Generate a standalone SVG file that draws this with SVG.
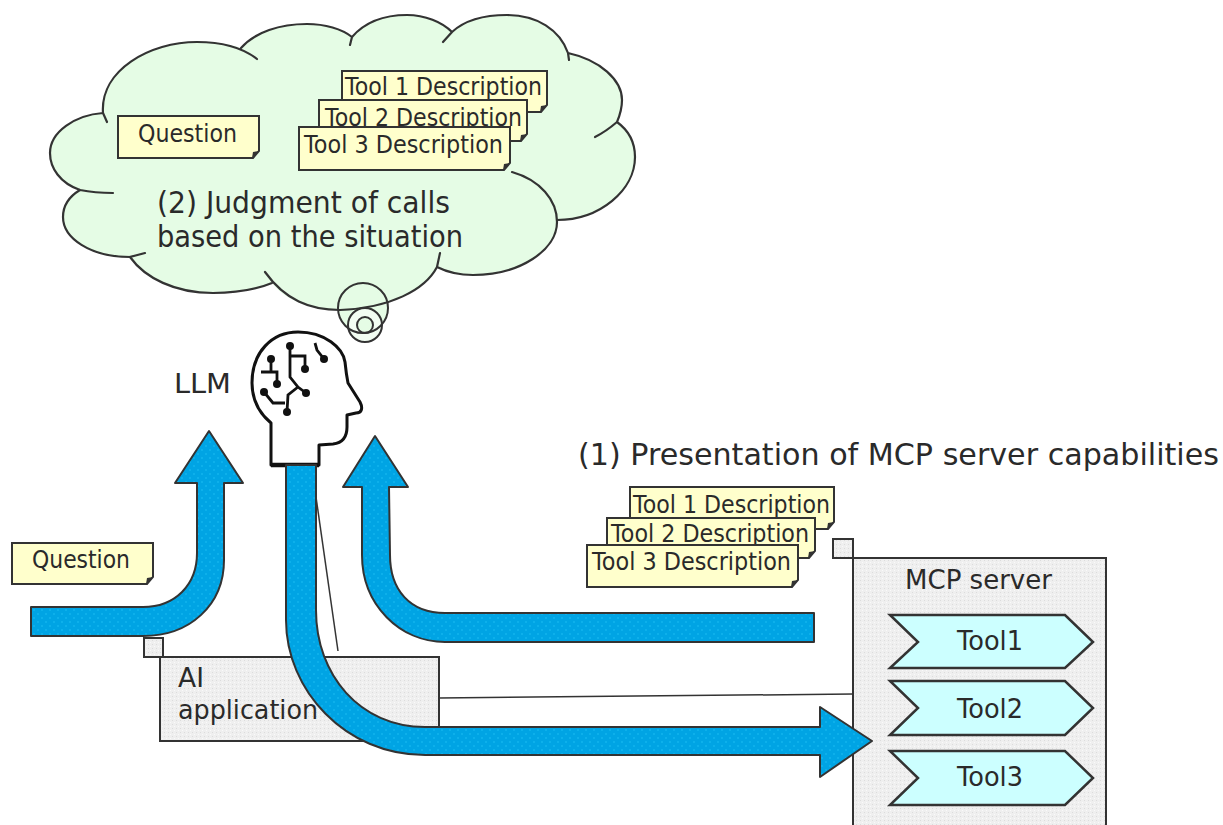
<svg xmlns="http://www.w3.org/2000/svg" width="1223" height="825" viewBox="0 0 1223 825">
<style>
text{font-family:"DejaVu Sans","Liberation Sans",sans-serif;fill:#2a2a2a}
.note{fill:#ffffcc;stroke:#333;stroke-width:2}
.fold{fill:#333;stroke:none}
.nt{font-size:24px}
.big{font-size:26px}
.huge{font-size:30px}
.gray{fill:url(#pg);stroke:#333;stroke-width:2}
.tool{fill:#ccffff;stroke:#333;stroke-width:2.5;stroke-linejoin:miter}
.arrow{fill:url(#pb);stroke:#333;stroke-width:2;stroke-linejoin:round}
.thin{fill:none;stroke:#333;stroke-width:1.5}
.cl{fill:none;stroke:#333;stroke-width:2.2;stroke-linecap:round}
.cf{fill:#e5fce5}
.ci{fill:none;stroke:#111;stroke-width:2.8}
.dot{fill:#111}
</style>
<defs>
<pattern id="pb" width="8" height="8" patternUnits="userSpaceOnUse"><rect width="8" height="8" fill="#00a4e4"/><circle cx="2" cy="2" r="0.8" fill="#1cc0f4"/><circle cx="6" cy="6" r="0.8" fill="#1cc0f4"/></pattern>
<pattern id="pg" width="4" height="4" patternUnits="userSpaceOnUse"><rect width="4" height="4" fill="#efefef"/><rect width="1" height="1" fill="#dcdcdc"/><rect x="2" y="2" width="1" height="1" fill="#fafafa"/></pattern>
<g id="f"><path class="fold" d="M0,0 l-7,7 l1,-6 z"/></g>
</defs>
<g id="cloud">
<circle class="cf" cx="363" cy="308" r="25"/>
<circle cx="365" cy="325" r="17" fill="#f2fdf2"/>
<circle class="cf" cx="365" cy="325" r="8"/>
<path class="cf" d="M103,113 C100,70 150,42 197,42 C215,42 230,44 241,48 C255,32 280,24 307,24 C325,24 342,29 352,37 C365,22 385,15 407,15 C425,15 442,22 452,32 C465,20 485,15 507,15 C537,15 560,30 568,53 C600,60 622,80 622,100 C622,108 620,115 617,122 C628,130 635,142 635,157 C635,190 600,220 557,220 C557,250 520,275 473,275 C460,275 447,272 437,267 C425,290 390,308 340,310 C310,310 285,300 272,283 C255,290 235,293 213,293 C175,293 145,278 130,257 C90,257 63,238 63,217 C63,205 70,196 80,190 C60,183 50,168 50,153 C50,132 75,115 103,113 Z"/>
<path class="cl" d="M107,122 L103,113 C100,70 150,42 197,42 C222,42 243,48 257,59 M241,48 C255,32 280,24 307,24 C325,24 342,29 352,37 L350,45 M352,37 C365,22 385,15 407,15 C425,15 442,22 452,32 L443,42 M452,32 C465,20 485,15 507,15 C537,15 560,30 568,53 L569,60 M568,53 C600,60 622,80 622,100 C622,108 620,115 617,122 C610,128 603,133 595,137 M617,122 C628,130 635,142 635,157 C635,190 600,220 557,220 M512,172 C540,180 557,200 557,222 C557,250 520,275 473,275 C460,275 447,272 437,267 L440,253 M437,267 C425,290 390,308 340,310 C310,310 285,300 265,272 M272,283 C255,290 235,293 213,293 C175,293 145,278 130,257 L145,253 M130,257 C90,257 63,238 63,217 C63,205 70,196 80,190 C90,192 100,193 113,193 M80,190 C60,183 50,168 50,153 C50,132 75,115 103,113"/>
<circle class="thin" style="stroke-width:2" cx="363" cy="308" r="25"/>
<circle class="thin" style="stroke-width:2" cx="365" cy="325" r="17"/>
<circle class="thin" style="stroke-width:2" cx="365" cy="325" r="8"/>
<text class="huge" x="157" y="213" textLength="293" lengthAdjust="spacingAndGlyphs">(2) Judgment of calls</text>
<text class="huge" x="157" y="247" textLength="306" lengthAdjust="spacingAndGlyphs">based on the situation</text>
</g>
<g id="cloud-question">
<path class="note" d="M118,116 H259 V151 L253,158 H118 Z"/><use href="#f" x="259" y="151"/>
<text class="nt" x="138" y="142" textLength="99" lengthAdjust="spacingAndGlyphs">Question</text>
</g>
<g id="cloud-tool-1">
<path class="note" d="M342,71 H547 V105 L541,112 H342 Z"/><use href="#f" x="547" y="105"/>
<text class="nt" x="345" y="95" textLength="197" lengthAdjust="spacingAndGlyphs">Tool 1 Description</text>
</g>
<g id="cloud-tool-2">
<path class="note" d="M319,100 H527 V134 L521,141 H319 Z"/><use href="#f" x="527" y="134"/>
<text class="nt" x="325" y="126" textLength="197" lengthAdjust="spacingAndGlyphs">Tool 2 Description</text>
</g>
<g id="cloud-tool-3">
<path class="note" d="M299,127 H510 V163 L504,170 H299 Z"/><use href="#f" x="510" y="163"/>
<text class="nt" x="304" y="153" textLength="199" lengthAdjust="spacingAndGlyphs">Tool 3 Description</text>
</g>
<g id="llm">
<text class="big" x="174" y="393" textLength="57" lengthAdjust="spacingAndGlyphs">LLM</text>
<path fill="#fff" stroke="#111" stroke-width="3" stroke-linejoin="round" d="M271,465 V423 C258,412 252,398 252,383 C252,352 272,332 298,332 C325,332 343,348 345,362 C346,372 347,378 348,383 L360,402 C363,408 362,413 356,413 L347,415 V427 C347,437 342,443 333,444 L319,445 V465 Z"/>
<path d="M271,465 H319" stroke="#111" stroke-width="4.5" fill="none"/>
<path class="ci" d="M290,346 V377 L298,387 L306,393 M290,356 H305 V369 M298,387 L288,395 L287,412 M264,392 L273,403 H285 M271,359 V372 M261,372 H277 V384 M315,343 L317,350 L324,359"/>
<circle class="dot" cx="290" cy="346" r="4"/><circle class="dot" cx="305" cy="369" r="4"/><circle class="dot" cx="306" cy="393" r="4"/><circle class="dot" cx="287" cy="412" r="4"/><circle class="dot" cx="264" cy="392" r="4"/><circle class="dot" cx="271" cy="359" r="4"/><circle class="dot" cx="277" cy="384" r="4"/><circle class="dot" cx="324" cy="359" r="4"/>
</g>
<g id="question">
<path class="note" d="M12,543 H153 V577 L147,584 H12 Z"/><use href="#f" x="153" y="577"/>
<text class="nt" x="32" y="568" textLength="98" lengthAdjust="spacingAndGlyphs">Question</text>
</g>
<g id="ai-application">
<rect class="gray" x="144" y="638" width="19" height="19"/>
<rect class="gray" x="160" y="657" width="279" height="84"/>
<text class="big" x="178" y="687" textLength="26" lengthAdjust="spacingAndGlyphs">AI</text>
<text class="big" x="178" y="719" textLength="140" lengthAdjust="spacingAndGlyphs">application</text>
</g>
<g id="mcp-server">
<rect class="gray" x="833" y="539" width="20" height="19"/>
<rect class="gray" x="853" y="558" width="253" height="272"/>
<text class="big" x="905" y="589" textLength="147" lengthAdjust="spacingAndGlyphs">MCP server</text>
</g>
<g id="tool1">
<path class="tool" d="M890,615 H1065 L1093,642 L1065,668 H890 L918,642 Z"/>
<text class="big" x="957" y="650" textLength="66" lengthAdjust="spacingAndGlyphs">Tool1</text>
</g>
<g id="tool2">
<path class="tool" d="M890,681 H1065 L1093,708 L1065,735 H890 L918,708 Z"/>
<text class="big" x="957" y="718" textLength="66" lengthAdjust="spacingAndGlyphs">Tool2</text>
</g>
<g id="tool3">
<path class="tool" d="M890,751 H1065 L1093,778 L1065,805 H890 L918,778 Z"/>
<text class="big" x="957" y="786" textLength="66" lengthAdjust="spacingAndGlyphs">Tool3</text>
</g>
<g id="presentation">
<text class="huge" x="578" y="465" textLength="641" lengthAdjust="spacingAndGlyphs">(1) Presentation of MCP server capabilities</text>
</g>
<g id="server-tool-1">
<path class="note" d="M630,487 H834 V522 L828,529 H630 Z"/><use href="#f" x="834" y="522"/>
<text class="nt" x="633" y="513" textLength="197" lengthAdjust="spacingAndGlyphs">Tool 1 Description</text>
</g>
<g id="server-tool-2">
<path class="note" d="M607,518 H815 V551 L809,558 H607 Z"/><use href="#f" x="815" y="551"/>
<text class="nt" x="611" y="542" textLength="198" lengthAdjust="spacingAndGlyphs">Tool 2 Description</text>
</g>
<g id="server-tool-3">
<path class="note" d="M587,545 H798 V580 L792,587 H587 Z"/><use href="#f" x="798" y="580"/>
<text class="nt" x="592" y="570" textLength="199" lengthAdjust="spacingAndGlyphs">Tool 3 Description</text>
</g>
<g id="connectors">
<path class="thin" d="M315,490 L338,651"/>
<path class="thin" d="M439,698 L853,694"/>
<path class="arrow" d="M31,607 H143 C175,607 197,585 197,553 V483 H175 L209,431 L243,483 H224 V560 C224,605 190,636 143,636 H31 Z"/>
<path class="arrow" d="M814,613 H445 C410,613 390,590 390,555 L389,487 H408 L375,436 L343,487 H362 V555 C362,605 400,642 445,642 H814 Z"/>
<path class="arrow" d="M286,465 H316 V610 C316,675 360,727 425,727 H820 V707 L872,741 L820,777 V755 H425 C345,755 286,690 286,620 Z"/>
</g>
</svg>
